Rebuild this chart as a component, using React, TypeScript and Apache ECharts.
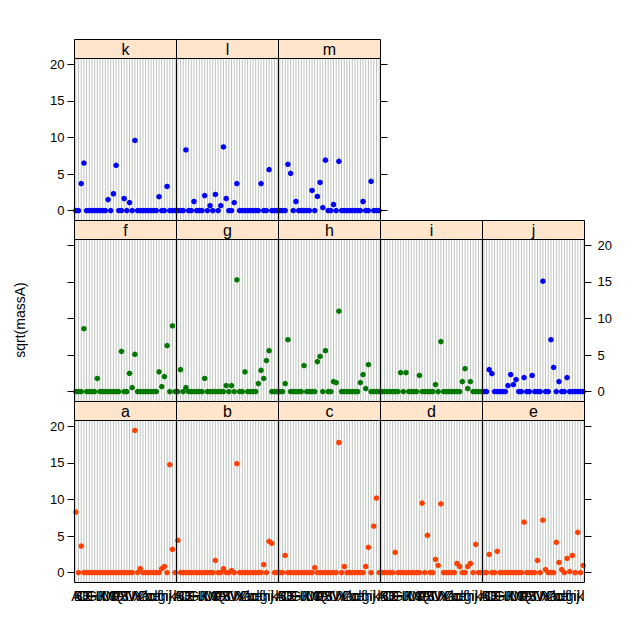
import React, { useEffect, useRef } from "react";
import * as echarts from "echarts";

const categories = "ABCDEFGHIJKLMNOPQRSTUVWXYZabcdefghijkl".split("");
const panelNames = ["a", "b", "c", "d", "e", "f", "g", "h", "i", "j", "k", "l", "m"];
const yTicks = [0, 5, 10, 15, 20];

const valuesA = [8.28,0,3.63,0,0,0,0,0,0,0, 0,0,0,0,0,0,0,0,0,0, 0,0,19.45,0,0.55,0,0,0,0,0, 0,0,0.55,0.83,0,14.76,3.17,0];
const valuesB = [4.41,0,0,0,0,0,0,0,0,0, 0,0,0,0,1.66,0,0,0.55,0,0, 0.28,0,14.9,0,0,0,0,0,0,0, 0,0,1.1,0,4.28,4.0,0,0];
const valuesC = [0,0,2.34,0,0,0,0,0,0,0, 0,0,0,0.69,0,0,0,0,0,0, 0,0,17.8,0,0.83,0,0,0,0,0, 0,0,0.83,3.45,0,6.34,10.2,0];
const valuesD = [0,0,0,0,0,2.76,0,0,0,0, 0,0,0,0,0,9.5,0,5.1,0,0, 1.8,0.97,9.4,0,0,0,0,0,1.24,0.83, 0,0,0.83,1.24,0,3.86,0,0];
const valuesE = [0,0,2.48,0,0,2.9,0,0,0,0, 0,0,0,0,0,6.9,0,0,0,0, 1.66,0,7.17,0.41,0,0,0,4.14,1.38,0.41, 0,1.93,0.14,2.34,0,5.5,0,0.97];
const valuesF = [0,0,0,8.6,0,0,0,0,1.8,0, 0,0,0,0,0,0,0,5.5,0,0, 2.5,0.55,5.1,0,0,0,0,0,0,0, 0,2.7,0.68,2.05,6.3,0,9.0,0];
const valuesG = [0,3.0,0,0.55,0,0,0,0,0,0, 1.8,0,0,0,0,0,0,0,0.82,0, 0.82,0,15.3,0,0,2.7,0,0,0,0, 1.1,2.9,1.8,4.25,5.6,0,0,0];
const valuesH = [0,0,1.1,7.1,0,0,0,0,0,3.56, 0,0,0,0,4.1,4.8,0,5.6,0,0, 1.37,1.23,11.0,0,0,0,0,0,0,0, 1.23,2.33,0.41,3.7,0,0,0,0];
const valuesI = [0,0,0,0,0,0,0,2.6,0,2.6, 0,0,0,0,2.2,0,0,0,0,0, 0.96,0,6.85,0,0,0,0,0,0,0, 1.37,3.15,0.41,1.37,0,0,0,0];
const valuesJ = [0,0,3.0,2.47,0,0,0,0,0,0.82, 2.33,0.96,1.64,0,0,1.92,0,0,2.2,0, 0,0,15.1,0,0,7.1,3.3,0,1.37,0, 0,1.92,0,0,0,0,0,0];
const valuesK = [0,0,3.7,6.5,0,0,0,0,0,0, 0,0,1.5,0,2.3,6.2,0,0,1.65,0, 1.1,0,9.6,0,0,0,0,0,0,0, 0,1.9,0,0,3.3,0,0,0];
const valuesL = [0,0,0,8.3,0,0,1.24,0,0,0, 2.06,0,0.69,0,2.2,0,0.69,8.7,1.65,0, 0,1.1,3.7,0,0,0,0,0,0,0, 0,3.7,0,0,5.6,0,0,0];
const valuesM = [0,0,0,6.33,5.1,0,1.24,0,0,0, 0,0,2.75,0,1.93,3.85,0.41,6.9,0,0, 0.83,0,6.74,0,0,0,0,0,0,0, 0,1.24,0,0,4.0,0,0,0];

const panelValues = [valuesA, valuesB, valuesC, valuesD, valuesE, valuesF, valuesG, valuesH, valuesI, valuesJ, valuesK, valuesL, valuesM];

const ORANGE = "#FF4000";
const GREEN = "#007800";
const BLUE = "#0000FF";
const panelColors = [ORANGE, ORANGE, ORANGE, ORANGE, ORANGE, GREEN, GREEN, GREEN, GREEN, BLUE, BLUE, BLUE, BLUE];

const YMIN = -1.36;
const YMAX = 20.81;
const LEFT = 74.5;
const PW = 102;
const PH = 162;
const STRIP = 19;
const ROW_TOP = [58.5, 239.5, 420.5];
const FONT = "Liberation Sans, Arial, sans-serif";
const GRID_COLOR = "#BEC3BE";

function layoutOf(p: number) {
  // a-e bottom row, f-j middle row, k-m top row
  if (p < 5) return { row: 2, col: p, last: 4 };
  if (p < 10) return { row: 1, col: p - 5, last: 4 };
  return { row: 0, col: p - 10, last: 2 };
}

export default function App() {
  const ref = useRef<HTMLDivElement>(null);
  useEffect(() => {
    if (!ref.current) return;
    const chart = echarts.init(ref.current, null, { renderer: "svg" });

    const grids: any[] = [];
    const xAxes: any[] = [];
    const yAxes: any[] = [];
    const series: any[] = [];
    const graphics: any[] = [];

    panelNames.forEach((name, p) => {
      const { row, col, last } = layoutOf(p);
      const left = LEFT + col * PW;
      const top = ROW_TOP[row];
      grids.push({
        left,
        top,
        width: PW,
        height: PH,
        show: false,
      });
      xAxes.push({
        type: "category",
        gridIndex: p,
        data: categories,
        boundaryGap: true,
        axisLine: { show: false },
        axisTick: { show: false },
        splitLine: { show: false },
        axisLabel:
          row === 2
            ? { show: true, interval: 0, fontSize: 14, color: "#000", margin: 6, fontFamily: FONT }
            : { show: false },
      });
      const isLeft = col === 0;
      const isRight = col === last;
      const showLabels = (isLeft && row !== 1) || (isRight && row === 1);
      if (isLeft || isRight) {
        yAxes.push({
          type: "value",
          gridIndex: p,
          position: isLeft ? "left" : "right",
          min: YMIN,
          max: YMAX,
          axisLine: { show: false },
          splitLine: { show: false },
          axisTick: {
            show: true,
            length: 7,
            customValues: yTicks,
            lineStyle: { color: "#000", width: 1 },
          },
          axisLabel: {
            show: showLabels,
            customValues: yTicks,
            fontSize: 13,
            color: "#000",
            margin: isLeft ? 10 : 13,
            fontFamily: FONT,
          },
        });
      } else {
        yAxes.push({ type: "value", gridIndex: p, min: YMIN, max: YMAX, show: false });
      }
      series.push({
        type: "custom",
        xAxisIndex: p,
        yAxisIndex: p,
        silent: true,
        z: 1,
        data: categories.map((_, i) => [i, 0]),
        encode: { x: 0, y: 1 },
        renderItem: (params: any, api: any) => {
          const x = api.value(0);
          const p1 = api.coord([x, YMAX]);
          const p2 = api.coord([x, YMIN]);
          return {
            type: "line",
            shape: { x1: p1[0], y1: p1[1], x2: p2[0], y2: p2[1] },
            style: { stroke: GRID_COLOR, lineWidth: 1 },
          };
        },
      });
      series.push({
        type: "scatter",
        name,
        xAxisIndex: p,
        yAxisIndex: p,
        z: 3,
        symbol: "circle",
        symbolSize: 5.5,
        itemStyle: { color: panelColors[p], opacity: 1 },
        data: panelValues[p],
      });
      // panel border
      graphics.push({
        type: "rect",
        z: 50,
        silent: true,
        shape: { x: left, y: top, width: PW, height: PH },
        style: { fill: "none", stroke: "#000", lineWidth: 1 },
      });
      graphics.push({
        type: "rect",
        z: 50,
        shape: { x: left, y: top - STRIP, width: PW, height: STRIP },
        style: { fill: "#FFE5CC", stroke: "#000", lineWidth: 1 },
      });
      graphics.push({
        type: "text",
        z: 51,
        x: left + PW / 2,
        y: top - STRIP / 2 + 0.5,
        style: {
          text: name,
          fontSize: 16,
          fontFamily: FONT,
          fill: "#000",
          textAlign: "center",
          textVerticalAlign: "middle",
        },
      });
    });

    graphics.push({
      type: "text",
      x: 20,
      y: 320,
      rotation: Math.PI / 2,
      style: {
        text: "sqrt(massA)",
        fontSize: 14,
        fontFamily: FONT,
        fill: "#000",
        textAlign: "center",
        textVerticalAlign: "middle",
      },
    });

    chart.setOption({
      animation: false,
      backgroundColor: "#fff",
      grid: grids,
      xAxis: xAxes,
      yAxis: yAxes,
      series,
      graphic: graphics,
    });
    return () => chart.dispose();
  }, []);
  return (
    <div
      ref={ref}
      style={{ position: "fixed", left: 0, top: 0, width: 640, height: 640 }}
    />
  );
}
